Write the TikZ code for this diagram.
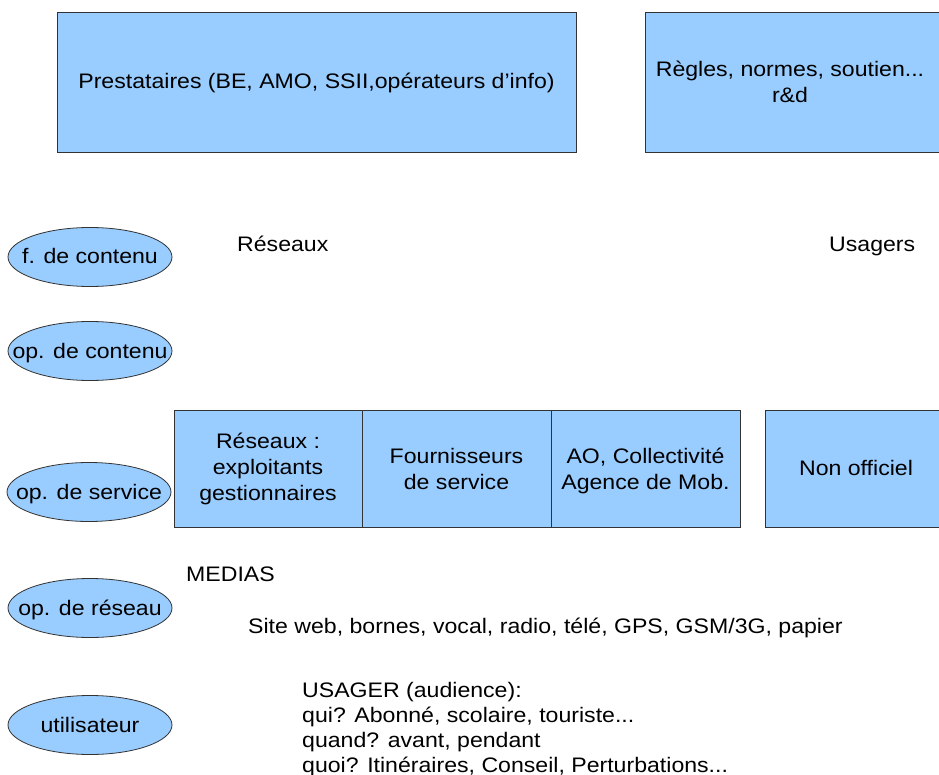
\documentclass[tikz,border=0pt]{standalone}
\usepackage{fontspec}
\setmainfont{Liberation Sans}[FakeStretch=1.1]
\usetikzlibrary{shapes.geometric}
\definecolor{boxblue}{HTML}{99CCFF}
\definecolor{edge}{HTML}{333333}
\tikzset{
  boxnode/.style={draw=edge, line width=0.9pt, fill=boxblue, rectangle, inner sep=0pt, align=center, font=\fontsize{21}{26}\selectfont},
  role/.style={draw=edge, line width=0.8pt, fill=boxblue, ellipse, minimum width=164pt, minimum height=59pt, inner sep=0pt, font=\fontsize{21}{26}\selectfont},
  label/.style={inner sep=0pt, font=\fontsize{21}{26}\selectfont},
}
\begin{document}
\begin{tikzpicture}[x=1pt,y=-1pt]
\useasboundingbox (0,0) rectangle (939,775);
\begin{scope}
\clip (0,0) rectangle (939,775);
% top boxes
\node[boxnode, minimum width=519pt, minimum height=140pt] (prest) at (316.5,82) {};
\node[label, anchor=base] (presttxt) at (316.5,89) {Prestataires (BE, AMO, SSII,opérateurs d'info)};
\node[boxnode, minimum width=300pt, minimum height=140pt] (regles) at (795,82) {};
\node[label, anchor=base] (reglestxt) at (790,77) {Règles, normes, soutien...};
\node[label, anchor=base] (rd) at (790,103) {r\&d};
% labels
\node[label, anchor=base west] (reseaux) at (237,252) {Réseaux};
\node[label, anchor=base west] (usagers) at (829,252) {Usagers};
% ellipses
\node[role] (fc) at (90,257) {};
\node[label, anchor=base] at (90,264) {f. de contenu};
\node[role] (oc) at (90,351) {};
\node[label, anchor=base] at (90,358) {op. de contenu};
\node[role] (os) at (89,492) {};
\node[label, anchor=base] at (89,499) {op. de service};
\node[role] (orx) at (90,608) {};
\node[label, anchor=base] at (90,615) {op. de réseau};
\node[role] (ut) at (90,725) {};
\node[label, anchor=base] at (90,732) {utilisateur};
% middle boxes
\node[boxnode, minimum width=188pt, minimum height=117pt] (res) at (268,468.5) {};
\node[label, anchor=base, align=center] at (268,500) {Réseaux :\\exploitants\\gestionnaires};
\node[boxnode, minimum width=189pt, minimum height=117pt] (four) at (456.5,468.5) {};
\node[label, anchor=base, align=center] at (456.5,489) {Fournisseurs\\de service};
\node[boxnode, minimum width=189pt, minimum height=117pt] (ao) at (645.5,468.5) {};
\node[label, anchor=base, align=center] at (645.5,489) {AO, Collectivité\\Agence de Mob.};
\node[boxnode, minimum width=190pt, minimum height=117pt] (nonoff) at (860,468.5) {};
\node[label, anchor=base] (nonofftxt) at (856,475) {Non officiel};
% bottom texts
\node[label, anchor=base west] (medias) at (186,581) {MEDIAS};
\node[label, anchor=base west] (site) at (248,633) {Site web, bornes, vocal, radio, télé, GPS, GSM/3G, papier};
\node[label, anchor=base west] (u1) at (302,697) {USAGER (audience):};
\node[label, anchor=base west] (u2) at (302,722) {qui? Abonné, scolaire, touriste...};
\node[label, anchor=base west] (u3) at (302,747) {quand? avant, pendant};
\node[label, anchor=base west] (u4) at (302,772) {quoi? Itinéraires, Conseil, Perturbations...};
\end{scope}
\end{tikzpicture}
\end{document}
